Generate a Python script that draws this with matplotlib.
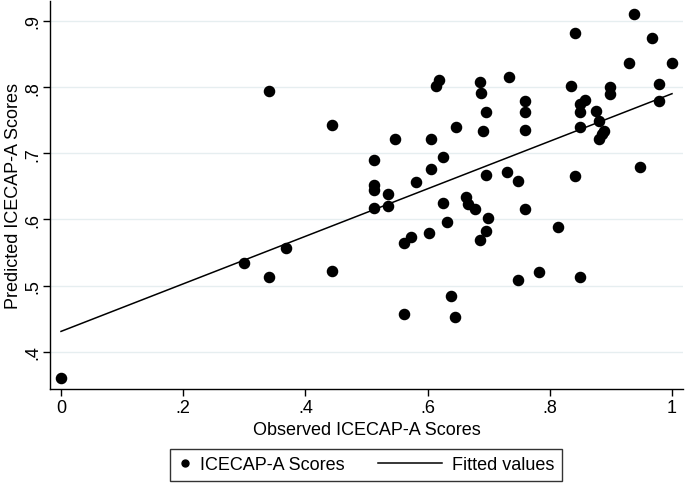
import numpy as np
import matplotlib
matplotlib.use("Agg")
import matplotlib.pyplot as plt
from matplotlib.legend_handler import HandlerLine2D

plt.rcParams['font.family'] = ['Liberation Sans', 'DejaVu Sans']

# observed vs predicted ICECAP-A scores
observed = [0.000, 0.300, 0.340, 0.369, 0.444, 0.340, 0.444, 0.938, 0.841, 0.968,
            0.930, 1.000, 0.618, 0.613, 0.685, 0.687, 0.734, 0.760, 0.760, 0.760,
            0.696, 0.691, 0.646, 0.546, 0.606, 0.513, 0.625, 0.606, 0.581, 0.513,
            0.513, 0.535, 0.513, 0.535, 0.625, 0.663, 0.666, 0.678, 0.699, 0.631,
            0.760, 0.696, 0.730, 0.748, 0.841, 0.835, 0.849, 0.858, 0.849, 0.876,
            0.880, 0.849, 0.888, 0.885, 0.880, 0.898, 0.898, 0.978, 0.978, 0.947,
            0.696, 0.685, 0.603, 0.573, 0.562, 0.813, 0.748, 0.783, 0.849, 0.639,
            0.562, 0.645]
predicted = [0.361, 0.535, 0.513, 0.557, 0.522, 0.794, 0.743, 0.910, 0.882, 0.874,
             0.836, 0.836, 0.810, 0.802, 0.807, 0.791, 0.815, 0.779, 0.763, 0.735,
             0.763, 0.734, 0.740, 0.722, 0.722, 0.690, 0.695, 0.677, 0.656, 0.652,
             0.644, 0.638, 0.618, 0.620, 0.625, 0.634, 0.623, 0.616, 0.603, 0.596,
             0.616, 0.667, 0.671, 0.658, 0.666, 0.801, 0.775, 0.780, 0.763, 0.764,
             0.749, 0.740, 0.734, 0.729, 0.722, 0.800, 0.790, 0.805, 0.779, 0.679,
             0.583, 0.569, 0.579, 0.573, 0.565, 0.588, 0.508, 0.521, 0.513, 0.485,
             0.458, 0.453]

# linear fit shown in the chart
fit_intercept = 0.431
fit_slope = 0.359

x_ticks = [0, 0.2, 0.4, 0.6, 0.8, 1.0]
x_tick_labels = ['0', '.2', '.4', '.6', '.8', '1']
y_ticks = [0.4, 0.5, 0.6, 0.7, 0.8, 0.9]
y_tick_labels = ['.4', '.5', '.6', '.7', '.8', '.9']

observed = np.array(observed)
predicted = np.array(predicted)
fit_x = np.array([observed.min(), observed.max()])
fit_y = fit_intercept + fit_slope * fit_x


# stata-style legend keys: dot sits near the text, line key is long
class MarkerKey(HandlerLine2D):
    def create_artists(self, legend, orig_handle, xdescent, ydescent,
                       width, height, fontsize, trans):
        arts = super().create_artists(legend, orig_handle, xdescent, ydescent,
                                      width, height, fontsize, trans)
        for a in arts:
            n = len(a.get_ydata())
            a.set_xdata(np.full(n, width - xdescent - 3.5))
        return arts


class LongLineKey(HandlerLine2D):
    def create_artists(self, legend, orig_handle, xdescent, ydescent,
                       width, height, fontsize, trans):
        arts = super().create_artists(legend, orig_handle, xdescent, ydescent,
                                      width, height, fontsize, trans)
        n = len(arts[0].get_ydata())
        arts[0].set_xdata(np.linspace(-xdescent - 37, width - xdescent, n))
        return arts


fig = plt.figure(figsize=(6.85, 4.85), dpi=100)
ax = fig.add_axes([50 / 685, 95 / 485, 633 / 685, 388 / 485])

for yt in y_ticks:
    ax.axhline(yt, color='#e6eef0', lw=1, zorder=0)

pts, = ax.plot(observed, predicted, 'o', color='black', ms=7.3, ls='none', zorder=3)
fit, = ax.plot(fit_x, fit_y, color='black', lw=1.1, zorder=2)

ax.set_xlim(-0.018, 1.018)
ax.set_ylim(0.344, 0.93)
ax.set_xticks(x_ticks)
ax.set_xticklabels(x_tick_labels)
ax.set_yticks(y_ticks)
ax.set_yticklabels(y_tick_labels, rotation=90, va='center')
ax.tick_params(direction='out', length=5, width=1, labelsize=13, colors='black')
ax.tick_params(axis='x', pad=2)
ax.tick_params(axis='y', pad=1)

for side in ['top', 'right']:
    ax.spines[side].set_visible(False)
for side in ['left', 'bottom']:
    ax.spines[side].set_linewidth(1)

ax.set_xlabel('Observed ICECAP-A Scores', fontsize=13, labelpad=4)
ax.set_ylabel('Predicted ICECAP-A Scores', fontsize=13, labelpad=2)

leg = fig.legend([pts, fit], ['ICECAP-A Scores', 'Fitted values'], ncol=2,
                 loc='center', bbox_to_anchor=(366 / 685, 19 / 485),
                 fontsize=13, frameon=True, fancybox=False, edgecolor='black',
                 handlelength=0.7, handletextpad=0.55, columnspacing=4.7,
                 borderpad=0.42, borderaxespad=0,
                 handler_map={pts: MarkerKey(), fit: LongLineKey()})
leg.get_frame().set_linewidth(1)
leg.legend_handles[0].set_markersize(5)

fig.savefig('out.png', dpi=100)
